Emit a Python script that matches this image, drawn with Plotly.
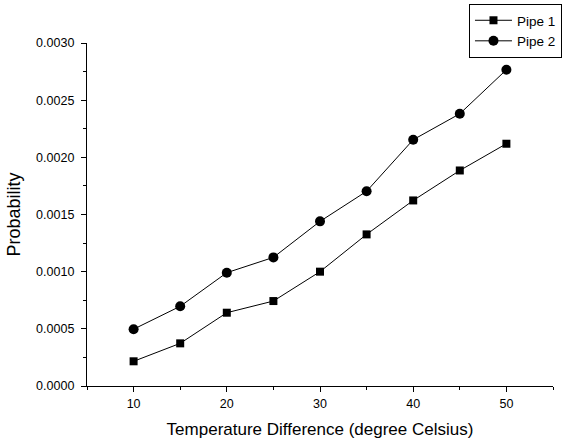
import plotly.graph_objects as go

temp_diff = [10, 15, 20, 25, 30, 35, 40, 45, 50]
pipe1 = [0.000216, 0.000373, 0.000641, 0.000743, 0.001000, 0.001326, 0.001623, 0.001885, 0.002119]
pipe2 = [0.000497, 0.000697, 0.000991, 0.001125, 0.001440, 0.001703, 0.002154, 0.002381, 0.002766]
y_ticks = [0.0, 0.0005, 0.0010, 0.0015, 0.0020, 0.0025, 0.0030]
x_ticks = [10, 20, 30, 40, 50]

FONT = "Arial, 'Liberation Sans', sans-serif"

fig = go.Figure()
fig.add_trace(go.Scatter(
    x=temp_diff, y=pipe1, name="Pipe 1", mode="lines+markers",
    line=dict(color="black", width=1),
    marker=dict(symbol="square", size=8, color="black"),
))
fig.add_trace(go.Scatter(
    x=temp_diff, y=pipe2, name="Pipe 2", mode="lines+markers",
    line=dict(color="black", width=1),
    marker=dict(symbol="circle", size=10, color="black"),
))

fig.update_layout(
    width=563, height=441,
    margin=dict(l=87, r=10, t=43, b=55, autoexpand=False),
    paper_bgcolor="white", plot_bgcolor="white",
    font=dict(family=FONT, color="black", size=12.5),
    showlegend=True,
    legend=dict(
        x=0.8197, y=1.1137, xanchor="left", yanchor="top",
        bordercolor="black", borderwidth=1, bgcolor="white",
        font=dict(size=13.5, family=FONT, color="black"),
        tracegroupgap=0, itemwidth=37,
    ),
    xaxis=dict(
        range=[5, 55], tickvals=x_ticks, ticktext=[str(v) for v in x_ticks],
        automargin=False,
        showgrid=False, zeroline=False, showline=True, linecolor="black", linewidth=1.3,
        ticks="outside", ticklen=5, tickwidth=1.3, tickcolor="black",
        ticklabelstandoff=1,
        minor=dict(ticks="outside", ticklen=3, dtick=5, tick0=5, tickcolor="black", tickwidth=1.3),
        tickfont=dict(size=12.5, family=FONT),
        title=dict(text="Temperature Difference (degree Celsius)", font=dict(size=17, family=FONT), standoff=12),
    ),
    yaxis=dict(
        range=[0, 0.003], tickvals=y_ticks, ticktext=["%.4f" % v for v in y_ticks],
        automargin=False,
        showgrid=False, zeroline=False, showline=True, linecolor="black", linewidth=1.3,
        ticks="outside", ticklen=5, tickwidth=1.3, tickcolor="black",
        ticklabelstandoff=4,
        minor=dict(ticks="outside", ticklen=3, dtick=0.00025, tick0=0, tickcolor="black", tickwidth=1.3),
        tickfont=dict(size=12.5, family=FONT),
        title=dict(text="Probability", font=dict(size=18, family=FONT), standoff=10),
    ),
)

fig.write_html(
    "out.html",
    config={"displayModeBar": False},
    post_script="document.body.style.margin='0';document.body.style.overflow='hidden';",
)
